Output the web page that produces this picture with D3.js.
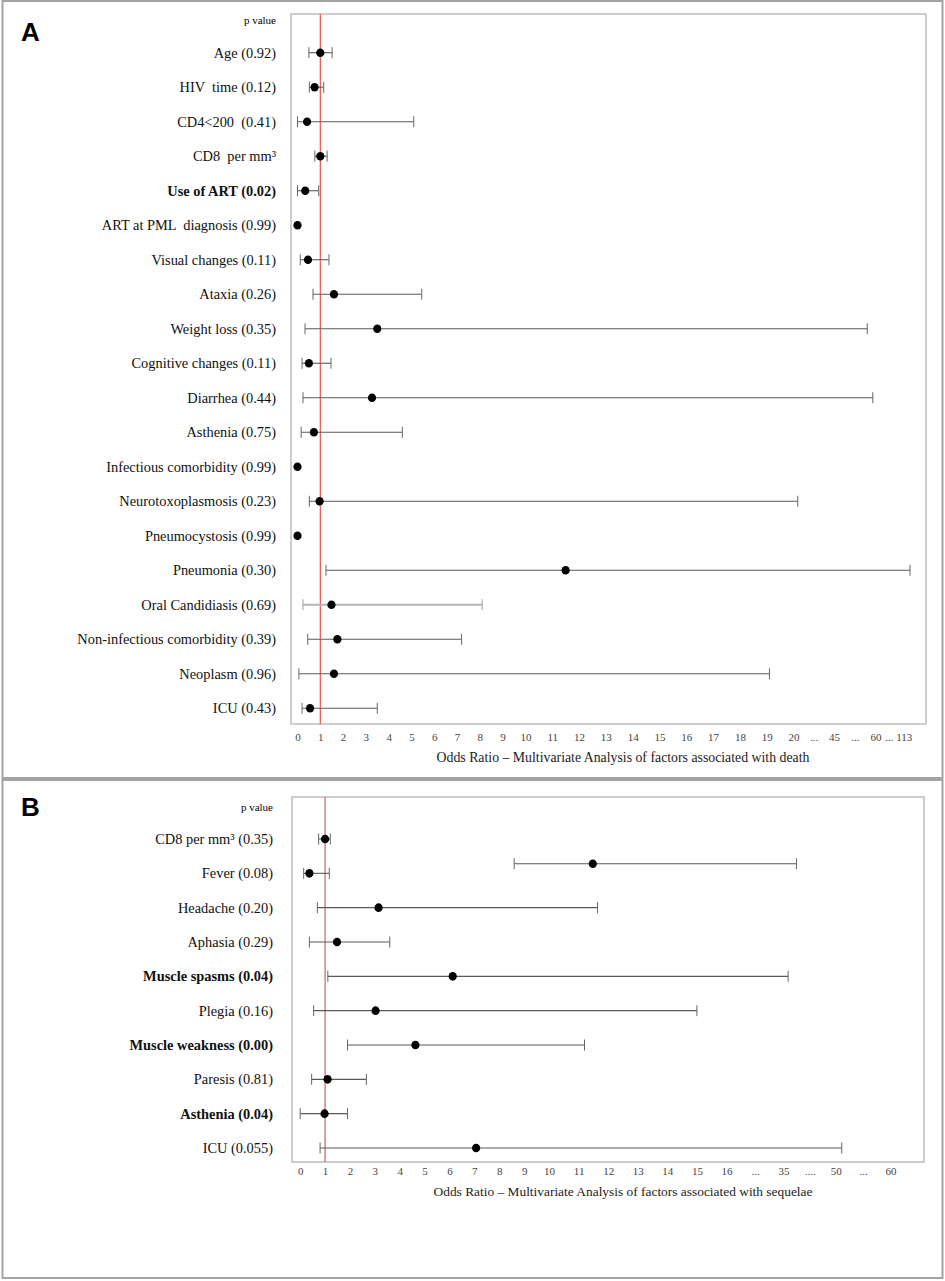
<!DOCTYPE html>
<html>
<head>
<meta charset="utf-8">
<title>Odds ratio forest plots</title>
<script src="https://cdn.jsdelivr.net/npm/d3@7"></script>
<style>
  body { margin: 0; background: #fff; }
  svg text { font-family: "Liberation Serif", "Times New Roman", serif; white-space: pre; }
</style>
</head>
<body>
<svg id="fig" width="945" height="1281"></svg>
<script>
// ---- panel A : factors associated with death ----
var labelsA = ["Age (0.92)", "HIV  time (0.12)", "CD4<200  (0.41)", "CD8  per mm³", "Use of ART (0.02)",
  "ART at PML  diagnosis (0.99)", "Visual changes (0.11)", "Ataxia (0.26)", "Weight loss (0.35)",
  "Cognitive changes (0.11)", "Diarrhea (0.44)", "Asthenia (0.75)", "Infectious comorbidity (0.99)",
  "Neurotoxoplasmosis (0.23)", "Pneumocystosis (0.99)", "Pneumonia (0.30)", "Oral Candidiasis (0.69)",
  "Non-infectious comorbidity (0.39)", "Neoplasm (0.96)", "ICU (0.43)"];
var orA = [1.0, 0.75, 0.42, 1.0, 0.34, 0, 0.46, 1.6, 3.5, 0.5, 3.27, 0.72, 0, 0.97, 0, 11.5, 1.49, 1.75, 1.6, 0.55];
var loA = [0.5, 0.52, 0, 0.76, 0, null, 0.12, 0.68, 0.33, 0.2, 0.24, 0.16, null, 0.52, null, 1.25, 0.24, 0.45, 0.06, 0.2];
var hiA = [1.52, 1.15, 5.1, 1.3, 0.93, null, 1.38, 5.45, 57, 1.47, 59, 4.6, null, 22.6, null, 113, 8.1, 7.2, 19.1, 3.5];
var boldA = ["Use of ART (0.02)"];
var faintA = ["Oral Candidiasis (0.69)"];
var tickTextA = ["0","1","2","3","4","5","6","7","8","9","10","11","12","13","14","15","16","17","18","19","20","...","45","...","60","... 113"];
var tickAtA = [0,1,2,3,4,5,6,7,8,9,10,11,12,13,14,15,16,17,18,19,20,32.5,45,52.5,60,95];
var breaksA = [0, 10, 20, 45, 60, 113];

// ---- panel B : factors associated with sequelae ----
var labelsB = ["CD8 per mm³ (0.35)", "Fever (0.08)", "Headache (0.20)", "Aphasia (0.29)", "Muscle spasms (0.04)",
  "Plegia (0.16)", "Muscle weakness (0.00)", "Paresis (0.81)", "Asthenia (0.04)", "ICU (0.055)"];
var orB = [1.0, 0.37, 3.15, 1.48, 6.13, 3.03, 4.63, 1.1, 0.98, 7.07];
var loB = [0.74, 0.14, 0.69, 0.37, 1.11, 0.54, 1.9, 0.46, 0, 0.8];
var hiB = [1.21, 1.17, 11.64, 3.6, 36.3, 15.0, 11.2, 2.66, 1.9, 51.1];
var boldB = ["Muscle spasms (0.04)", "Muscle weakness (0.00)", "Asthenia (0.04)"];
// stray interval drawn between the CD8 and Fever rows
var strayB = { after: "CD8 per mm³ (0.35)", frac: 0.72, or: 11.48, lo: 8.6, hi: 38.7 };
var tickTextB = ["0","1","2","3","4","5","6","7","8","9","10","11","12","13","14","15","16","...","35","....","50","...","60"];
var tickAtB = [0,1,2,3,4,5,6,7,8,9,10,11,12,13,14,15,16,25.5,35,42.5,50,55,60];
var breaksB = [0, 10, 16, 35, 50, 60];

var svg = d3.select("#fig");

// outer frames
svg.append("rect").attr("x", 2.5).attr("y", 1).attr("width", 940).attr("height", 777)
  .attr("fill", "none").attr("stroke", "#a3a3a3").attr("stroke-width", 2);
svg.append("rect").attr("x", 2.5).attr("y", 780).attr("width", 940).attr("height", 498)
  .attr("fill", "none").attr("stroke", "#a3a3a3").attr("stroke-width", 2);

function drawPanel(p) {
  var g = svg.append("g");

  // piecewise axis: fractions of the usable width for each break
  var x = d3.scaleLinear().domain(p.breaks)
    .range(p.frac.map(function(f) { return p.x0 + f * (p.x1 - p.x0); }));

  var y = d3.scalePoint().domain(p.labels).range([p.yFirst, p.yLast]);
  var step = y.step();

  g.append("text").attr("x", 21).attr("y", p.letterY)
    .style("font-family", "'Liberation Sans', Arial, sans-serif")
    .style("font-weight", "bold").style("font-size", "26px").text(p.letter);

  g.append("rect").attr("x", p.box[0]).attr("y", p.box[1])
    .attr("width", p.box[2] - p.box[0]).attr("height", p.box[3] - p.box[1])
    .attr("fill", "none").attr("stroke", "#bdbdbd").attr("stroke-width", 1.5);

  // reference line at OR = 1
  g.append("line").attr("x1", x(1)).attr("x2", x(1))
    .attr("y1", p.box[1]).attr("y2", p.box[3])
    .attr("stroke", p.refColor).attr("stroke-width", 1.1);

  g.append("text").attr("x", p.labelX).attr("y", p.yFirst - step + 6)
    .attr("text-anchor", "end").style("font-size", "11px").text("p value");

  g.selectAll(".lab").data(p.labels).enter().append("text")
    .attr("x", p.labelX).attr("y", function(d) { return y(d); })
    .attr("dy", "0.35em").attr("text-anchor", "end")
    .style("font-size", "14.4px").style("fill", "#111")
    .style("font-weight", function(d) { return p.bold.indexOf(d) >= 0 ? "bold" : "normal"; })
    .text(function(d) { return d; });

  var rows = p.labels.map(function(d, i) {
    return { y: y(d), or: p.or[i], lo: p.lo[i], hi: p.hi[i], faint: p.faint.indexOf(d) >= 0 };
  });
  if (p.stray) {
    rows.push({ y: y(p.stray.after) + p.stray.frac * step, or: p.stray.or, lo: p.stray.lo, hi: p.stray.hi, faint: false });
  }

  var ci = rows.filter(function(r) { return r.lo !== null; });
  g.selectAll(".ci").data(ci).enter().append("line")
    .attr("x1", function(r) { return x(r.lo); }).attr("x2", function(r) { return x(r.hi); })
    .attr("y1", function(r) { return r.y; }).attr("y2", function(r) { return r.y; })
    .attr("stroke", function(r) { return r.faint ? "#b5b5b5" : "#5a5a5a"; })
    .attr("stroke-width", function(r) { return r.faint ? 2 : 1.1; });
  ["lo", "hi"].forEach(function(k) {
    g.selectAll(".cap-" + k).data(ci).enter().append("line")
      .attr("x1", function(r) { return x(r[k]); }).attr("x2", function(r) { return x(r[k]); })
      .attr("y1", function(r) { return r.y - 5.5; }).attr("y2", function(r) { return r.y + 5.5; })
      .attr("stroke", function(r) { return r.faint ? "#a0a0a0" : "#666"; }).attr("stroke-width", 1);
  });

  g.selectAll(".pt").data(rows).enter().append("ellipse")
    .attr("cx", function(r) { return x(r.or); }).attr("cy", function(r) { return r.y; })
    .attr("rx", 4.1).attr("ry", 4.3).attr("fill", "#000");

  // tick labels
  var axis = d3.axisBottom(x).tickValues(p.tickAt).tickSize(0).tickPadding(0)
    .tickFormat(function(d, i) { return p.tickText[i]; });
  var ax = g.append("g").attr("transform", "translate(0," + p.tickY + ")").call(axis);
  ax.select(".domain").remove();
  ax.selectAll("text").attr("dy", "0.35em").attr("y", 0)
    .style("font-family", "'Liberation Serif', 'Times New Roman', serif")
    .style("font-size", "11px").style("fill", "#444");

  g.append("text").attr("x", p.titleX).attr("y", p.titleY).attr("text-anchor", "middle")
    .style("font-size", p.titleSize).style("fill", "#222").text(p.title);
}

drawPanel({
  letter: "A", letterY: 41,
  labels: labelsA, or: orA, lo: loA, hi: hiA, bold: boldA, faint: faintA,
  breaks: breaksA, frac: [0, 0.3721, 0.8099, 0.8758, 0.9438, 1],
  x0: 297.5, x1: 910, yFirst: 52.7, yLast: 708.3,
  box: [291, 14, 926, 724], labelX: 276, refColor: "#e3483f",
  tickAt: tickAtA, tickText: tickTextA, tickY: 737,
  title: "Odds Ratio – Multivariate Analysis of factors associated with death",
  titleX: 623, titleY: 762, titleSize: "13.8px"
});

drawPanel({
  letter: "B", letterY: 816,
  labels: labelsB, or: orB, lo: loB, hi: hiB, bold: boldB, faint: [], stray: strayB,
  breaks: breaksB, frac: [0, 0.4215, 0.7222, 0.8189, 0.9072, 1],
  x0: 300.2, x1: 890.5, yFirst: 839, yLast: 1148,
  box: [292, 797, 924, 1162], labelX: 273, refColor: "#c4574f",
  tickAt: tickAtB, tickText: tickTextB, tickY: 1171,
  title: "Odds Ratio – Multivariate Analysis of factors associated with sequelae",
  titleX: 623, titleY: 1196, titleSize: "13.4px"
});
</script>
</body>
</html>
